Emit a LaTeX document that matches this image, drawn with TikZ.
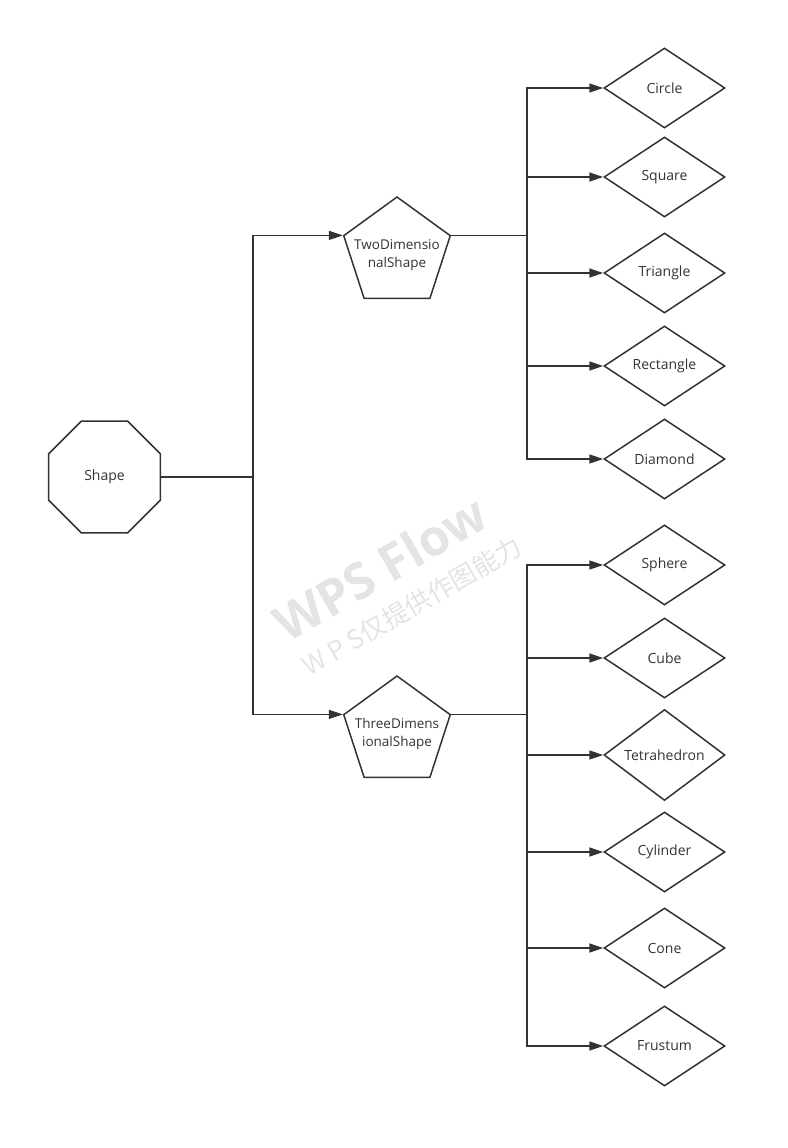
\documentclass[tikz,border=0pt]{standalone}
\usepackage{fontspec}
\setmainfont{Open Sans}
\newfontfamily\cjk{Noto Sans CJK SC}
\usepackage{xcolor}
\usepackage{tikz}
\usetikzlibrary{shapes.geometric, arrows.meta, positioning, calc}
\definecolor{linegray}{HTML}{333333}
\definecolor{wmgray}{HTML}{E4E4E4}
\tikzstyle{arrow} = [line width=1.5pt, draw=linegray, -{Triangle[length=14pt, width=9pt]}]
\tikzstyle{root} = [regular polygon, regular polygon sides=8, minimum size=121pt, inner sep=0pt, draw=linegray, line width=1.5pt, text=linegray, font=\fontsize{14}{18}\selectfont]
\tikzstyle{group} = [regular polygon, regular polygon sides=5, minimum size=112pt, inner sep=0pt, draw=linegray, line width=1.5pt]
\tikzstyle{grouptext} = [text=linegray, align=center, yshift=-2pt, font=\fontsize{13.5}{18}\selectfont]
\tikzstyle{leaf} = [diamond, minimum width=121pt, minimum height=80pt, inner sep=0pt, draw=linegray, line width=1.5pt, text=linegray, font=\fontsize{14}{18}\selectfont]

\begin{document}
\begin{tikzpicture}[x=1pt, y=-1pt]
    \useasboundingbox (0,0) rectangle (787,1148);

    % Watermark
    \node[rotate=30, text=wmgray, font=\fontsize{50}{54}\selectfont\bfseries] (wmtitle) at (380,568) {WPS Flow};
    \node[rotate=30, text=wmgray, font=\cjk\fontsize{26}{28}\selectfont] (wmnote) at (412,606) {W P S仅提供作图能力};

    % Nodes
    \node[root] (shape) at (104.5,477) {Shape};
    \node[group, label={[grouptext]center:TwoDimensio\\nalShape}] (twodim) at (397,253) {};
    \node[group, label={[grouptext]center:ThreeDimens\\ionalShape}] (threedim) at (397,732) {};

    % Bus lines
    \coordinate (busM) at (253,0);
    \coordinate (busA) at (527,0);

    \draw[arrow] (shape.east) -- (shape.east -| busM) |- (twodim.corner 2);
    \draw[arrow] (shape.east) -- (shape.east -| busM) |- (threedim.corner 2);

    % Two dimensional shapes
    \foreach \name/\y in {Circle/88, Square/177, Triangle/273, Rectangle/366, Diamond/459} {
        \node[leaf] (\name) at (664.5,\y) {\name};
        \draw[arrow] (twodim.corner 5) -- (twodim.corner 5 -| busA) |- (\name.west);
    }

    % Three dimensional shapes
    \foreach \name/\y in {Sphere/565, Cube/658, Tetrahedron/755, Cylinder/852, Cone/948, Frustum/1046} {
        \node[leaf] (\name) at (664.5,\y) {\name};
        \draw[arrow] (threedim.corner 5) -- (threedim.corner 5 -| busA) |- (\name.west);
    }
\end{tikzpicture}
\end{document}
